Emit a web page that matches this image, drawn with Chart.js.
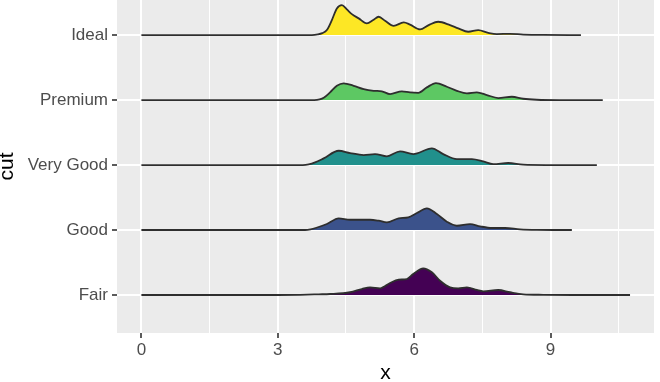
<!DOCTYPE html>
<html>
<head>
<meta charset="utf-8">
<script src="https://cdn.jsdelivr.net/npm/chart.js@4/dist/chart.umd.min.js"></script>
<style>
  html, body { margin: 0; padding: 0; background: #ffffff; }
  #wrap { width: 660px; height: 382px; }
</style>
</head>
<body>
<div id="wrap"><canvas id="c" width="660" height="382"></canvas></div>
<script>
// ---- data ----
const categories = ["Fair", "Good", "Very Good", "Premium", "Ideal"];
const xTickLabels = ["0", "3", "6", "9"];
const xTickValues = [0, 3, 6, 9];
const xMinorValues = [1.5, 4.5, 7.5, 10.5];

// ridge heights (in row units) at x positions
const fairX = [0, 3.0, 3.5, 3.9, 4.15, 4.59, 4.85, 5.03, 5.25, 5.47, 5.66, 5.84, 5.98, 6.20, 6.39, 6.57, 6.79, 6.97, 7.16, 7.38, 7.52, 7.85, 8.11, 8.40, 8.84, 9.5, 10.75];
const fairH = [0, 0, 0.003, 0.01, 0.015, 0.042, 0.092, 0.118, 0.103, 0.185, 0.235, 0.246, 0.323, 0.411, 0.349, 0.220, 0.118, 0.103, 0.118, 0.077, 0.057, 0.077, 0.042, 0.011, 0.003, 0, 0];

const goodX = [0, 3.6, 3.72, 3.85, 4.08, 4.34, 4.59, 5.03, 5.22, 5.40, 5.66, 5.87, 6.06, 6.28, 6.50, 6.72, 6.94, 7.23, 7.45, 7.71, 8.0, 8.33, 8.70, 9.47];
const goodH = [0, 0, 0.01, 0.035, 0.092, 0.180, 0.158, 0.158, 0.143, 0.118, 0.180, 0.195, 0.262, 0.334, 0.246, 0.128, 0.066, 0.092, 0.057, 0.031, 0.031, 0.011, 0.003, 0];

const veryGoodX = [0, 3.55, 3.68, 3.82, 4.01, 4.34, 4.59, 4.89, 5.14, 5.40, 5.69, 5.98, 6.39, 6.64, 6.94, 7.27, 7.52, 7.74, 8.07, 8.40, 8.9, 10.02];
const veryGoodH = [0, 0, 0.01, 0.04, 0.103, 0.220, 0.185, 0.154, 0.169, 0.134, 0.211, 0.169, 0.257, 0.169, 0.092, 0.092, 0.057, 0.015, 0.031, 0.005, 0, 0];

const premiumX = [0, 3.8, 3.92, 4.02, 4.15, 4.30, 4.45, 4.67, 4.89, 5.11, 5.29, 5.47, 5.73, 5.91, 6.09, 6.28, 6.48, 6.72, 6.94, 7.16, 7.38, 7.60, 7.85, 8.15, 8.40, 8.70, 9.2, 10.15];
const premiumH = [0, 0, 0.01, 0.04, 0.118, 0.220, 0.257, 0.220, 0.169, 0.143, 0.134, 0.092, 0.134, 0.118, 0.112, 0.195, 0.262, 0.205, 0.143, 0.103, 0.118, 0.077, 0.031, 0.051, 0.020, 0.005, 0, 0];

const idealX = [0, 3.75, 3.88, 3.98, 4.08, 4.19, 4.30, 4.41, 4.52, 4.63, 4.78, 4.96, 5.10, 5.22, 5.36, 5.55, 5.77, 5.91, 6.13, 6.32, 6.53, 6.79, 6.97, 7.19, 7.41, 7.63, 7.82, 8.11, 8.40, 8.84, 9.67];
const idealH = [0, 0, 0.01, 0.03, 0.077, 0.231, 0.411, 0.462, 0.395, 0.323, 0.257, 0.180, 0.231, 0.282, 0.220, 0.143, 0.195, 0.162, 0.088, 0.154, 0.205, 0.154, 0.103, 0.051, 0.077, 0.035, 0.015, 0.020, 0.008, 0.002, 0];

const seriesX = [fairX, goodX, veryGoodX, premiumX, idealX];
const seriesH = [fairH, goodH, veryGoodH, premiumH, idealH];
const fillColors = ["#440154", "#3B528B", "#21908C", "#5DC863", "#FDE725"];

// ---- build datasets ----
const datasets = categories.map((name, i) => {
  const base = i + 1;
  return {
    label: name,
    data: seriesX[i].map((x, k) => ({ x: x, y: base + seriesH[i][k] })),
    fill: { value: base },
    backgroundColor: fillColors[i],
    borderColor: "#2E2E2E",
    borderWidth: 1.8,
    pointRadius: 0,
    pointHoverRadius: 0,
    tension: 0.4,
    cubicInterpolationMode: "monotone",
    order: i
  };
});

const panelBg = {
  id: "panelBg",
  beforeDraw(chart) {
    const { ctx, chartArea: a } = chart;
    ctx.save();
    ctx.fillStyle = "#EBEBEB";
    ctx.fillRect(a.left, a.top, a.right - a.left, a.bottom - a.top);
    ctx.restore();
  }
};

const allXTicks = xTickValues.concat(xMinorValues).sort((a, b) => a - b);
const isMajor = v => xTickValues.indexOf(v) !== -1;

new Chart(document.getElementById("c"), {
  type: "line",
  data: { datasets },
  plugins: [panelBg],
  options: {
    responsive: false,
    animation: false,
    events: [],
    layout: { padding: { left: 0, right: 6, top: 0, bottom: 0 } },
    plugins: { legend: { display: false }, tooltip: { enabled: false } },
    scales: {
      x: {
        type: "linear",
        min: -0.537,
        max: 11.277,
        afterBuildTicks(scale) { scale.ticks = allXTicks.map(v => ({ value: v })); },
        afterFit(scale) {
          scale.height = 49;
          scale.paddingLeft = 0; scale.paddingRight = 0;
          scale.paddingTop = 0; scale.paddingBottom = 0;
        },
        border: { display: false },
        grid: {
          color: "#FFFFFF",
          lineWidth: ctx => (ctx.tick && isMajor(ctx.tick.value)) ? 2 : 1,
          drawTicks: true,
          tickLength: 5,
          tickColor: ctx => (ctx.tick && isMajor(ctx.tick.value)) ? "#333333" : "rgba(0,0,0,0)",
          tickWidth: 1.6
        },
        ticks: {
          autoSkip: false,
          maxRotation: 0,
          padding: 2,
          color: "#4D4D4D",
          font: { family: "'Liberation Sans', Arial, sans-serif", size: 17 },
          callback: v => { const k = xTickValues.indexOf(v); return k === -1 ? "" : xTickLabels[k]; }
        },
        title: {
          display: true,
          text: "x",
          color: "#000000",
          padding: 0,
          font: { family: "'Liberation Sans', Arial, sans-serif", size: 21, lineHeight: 0.8 }
        }
      },
      y: {
        type: "linear",
        min: 0.415,
        max: 5.54,
        afterBuildTicks(scale) { scale.ticks = categories.map((c, i) => ({ value: i + 1 })); },
        afterFit(scale) {
          scale.width = 117;
          scale.paddingTop = 0; scale.paddingBottom = 0;
          scale.paddingLeft = 0; scale.paddingRight = 0;
        },
        border: { display: false },
        grid: {
          color: "#FFFFFF",
          lineWidth: 2,
          drawTicks: true,
          tickLength: 5,
          tickColor: "#333333",
          tickWidth: 1.6
        },
        ticks: {
          autoSkip: false,
          padding: 4,
          color: "#4D4D4D",
          font: { family: "'Liberation Sans', Arial, sans-serif", size: 17 },
          callback: v => categories[v - 1] || ""
        },
        title: {
          display: true,
          text: "cut",
          color: "#000000",
          padding: 0,
          font: { family: "'Liberation Sans', Arial, sans-serif", size: 21, lineHeight: 0.7 }
        }
      }
    }
  }
});
</script>
</body>
</html>
